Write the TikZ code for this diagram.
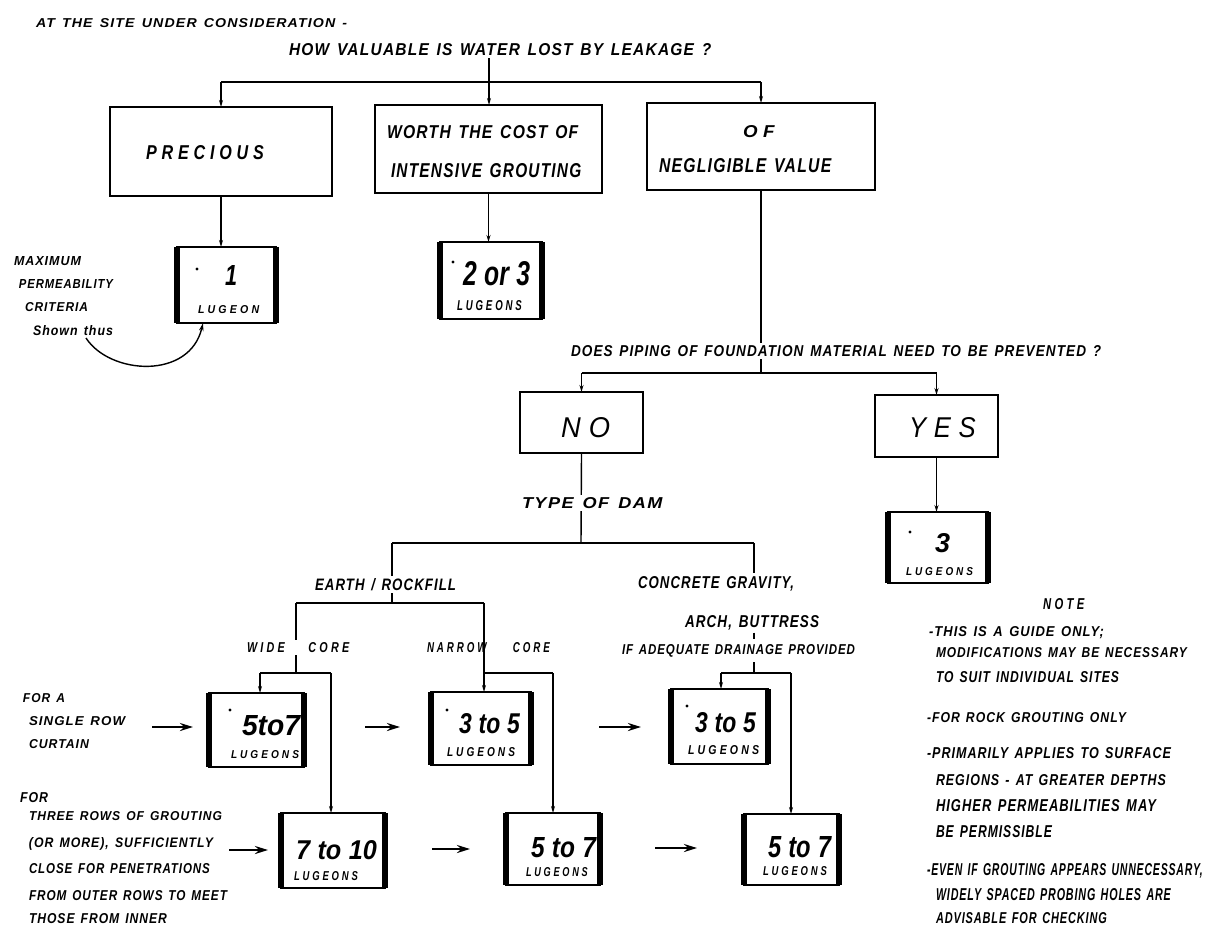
\documentclass[tikz,border=0pt]{standalone}
\usepackage{fontspec}
\usepackage{graphicx}
\setmainfont{Liberation Sans}
\newfontfamily\labA{Liberation Sans}[LetterSpace=8]
\newfontfamily\labB{Liberation Sans}[LetterSpace=30]
\usetikzlibrary{arrows.meta}
\newcommand\fit[3]{\resizebox{#1pt}{#2pt}{\labA\bfseries\itshape\spaceskip=0.5em\relax #3\kern-0.08em}}
\newcommand\fitw[3]{\resizebox{#1pt}{#2pt}{\labB\bfseries\itshape\spaceskip=0.5em\relax #3\kern-0.3em}}
\newcommand\fitwr[3]{\resizebox{#1pt}{#2pt}{\labB\itshape #3\kern-0.3em}}
\newcommand\fitn[3]{\resizebox{#1pt}{#2pt}{\bfseries\itshape\spaceskip=0.3em\relax #3}}
\begin{document}
\begin{tikzpicture}[x=1pt,y=-1pt,
  txt/.style={inner sep=0pt, outer sep=3pt, anchor=base west},
  wtxt/.style={txt, fill=white, inner ysep=2.5pt, inner xsep=1pt},
  bigbox/.style={draw, line width=2.8pt, inner sep=0pt, outer sep=0pt},
  resbox/.style={draw, line width=2.4pt, inner sep=0pt, outer sep=0pt},
  con/.style={line width=1.4pt},
  arr/.style={con, -{Stealth[length=7pt,width=4pt]}},
  harr/.style={line width=2.8pt, -{Stealth[length=13pt,width=8pt]}},
]
\useasboundingbox (0,0) rectangle (1205,924);
\fill[white] (0,0) rectangle (1205,924);

% ---------- boxes ----------
\node[bigbox, minimum width=222pt, minimum height=89pt] (precious) at (221,151.5) {};
\node[bigbox, minimum width=227pt, minimum height=88pt] (worth) at (488.5,149) {};
\node[bigbox, minimum width=228pt, minimum height=87pt] (negl) at (761,146.5) {};
\node[bigbox, minimum width=123pt, minimum height=61pt] (no) at (581.5,422.5) {};
\node[bigbox, minimum width=123pt, minimum height=62pt] (yes) at (936.5,426) {};

\node[resbox, minimum width=99pt, minimum height=76pt] (b1) at (226.5,285) {};
\node[resbox, minimum width=102pt, minimum height=77pt] (b2) at (491,280.5) {};
\node[resbox, minimum width=100pt, minimum height=71pt] (b3) at (938,547.5) {};
\node[resbox, minimum width=95pt, minimum height=74pt] (r1a) at (256.5,730) {};
\node[resbox, minimum width=100pt, minimum height=73pt] (r1b) at (481,728.5) {};
\node[resbox, minimum width=97pt, minimum height=75pt] (r1c) at (719.5,726.5) {};
\node[resbox, minimum width=104pt, minimum height=75pt] (r2a) at (333,850.5) {};
\node[resbox, minimum width=94pt, minimum height=72pt] (r2b) at (553,849) {};
\node[resbox, minimum width=95pt, minimum height=71pt] (r2c) at (791.5,849.5) {};
\foreach \b in {b1,b2,b3,r1a,r1b,r1c,r2a,r2b,r2c}{
  \draw[line width=5.5pt] (\b.north west) -- (\b.south west) (\b.north east) -- (\b.south east);
}

% ---------- junction coordinates ----------
\coordinate (j1) at (489,82);
\coordinate (j2) at (761,373);
\coordinate (j3) at (581,543);
\coordinate (j3L) at (392,543);
\coordinate (j3R) at (754,543);
\coordinate (j4L) at (296,603);
\coordinate (j4R) at (484,603);
\coordinate (j5) at (296,673);
\coordinate (j5L) at (260,673);
\coordinate (j5R) at (331,673);
\coordinate (j6L) at (484,673);
\coordinate (j6R) at (553,673);
\coordinate (j7) at (754,673);
\coordinate (j7L) at (721,673);
\coordinate (j7R) at (791,673);
\coordinate (cs) at (86,338);

% ---------- connectors under filled labels ----------
\draw[con] (negl.south) -- (j2);
\draw[con] (no.south) -- (j3);
\draw[con] (j3L) -- (j4L -| j3L);
\draw[con] (j4L) -- (j5);

% ---------- texts ----------
\node[txt] (q0) at (33,27) {\fit{310}{9}{AT THE SITE UNDER CONSIDERATION -}};
\node[txt] (q1) at (286,55) {\fit{421}{12}{HOW VALUABLE IS WATER LOST BY LEAKAGE ?}};
\node[txt] (tprec) at (143,159) {\fitw{113}{14}{PRECIOUS}};
\node[txt] (tw1) at (384,138) {\fit{190}{13}{WORTH THE COST OF}};
\node[txt] (tw2) at (388,177) {\fit{189}{14}{INTENSIVE GROUTING}};
\node[txt] (tof) at (740,137) {\fitw{26}{12}{OF}};
\node[txt] (tneg) at (656,172) {\fit{171}{14}{NEGLIGIBLE VALUE}};

\node[txt] (m1) at (11,265) {\fit{66}{9}{MAXIMUM}};
\node[txt] (m2) at (16,288) {\fit{93}{9}{PERMEABILITY}};
\node[txt] (m3) at (22,311) {\fit{62}{9}{CRITERIA}};
\node[txt] (shown) at (30,335) {\fit{79}{10}{Shown thus}};

\node[txt] (n1) at (222,285) {\fitn{12}{20}{1}};
\node[txt] (l1) at (195,313) {\fitw{58}{8}{LUGEON}};
\node[txt] (n2) at (460,285) {\fitn{67}{24}{2 or 3}};
\node[txt] (l2) at (454,310) {\fitw{62}{10}{LUGEONS}};

\node[wtxt] (q2) at (567,356) {\fit{529}{11}{DOES PIPING OF FOUNDATION MATERIAL NEED TO BE PREVENTED ?}};
\node[txt] (tno) at (558,437) {\fitwr{41}{20}{NO}};
\node[txt] (tyes) at (906,437) {\fitwr{59}{20}{YES}};
\node[txt] (n3) at (932,552) {\fitn{15}{19}{3}};
\node[txt] (l3) at (903,575) {\fitw{64}{8}{LUGEONS}};

\node[wtxt] (tdam) at (518,508) {\fit{139}{11}{TYPE OF DAM}};
\node[wtxt] (earth) at (311,590) {\fit{140}{12}{EARTH / ROCKFILL}};
\node[txt] (conc) at (635,588) {\fit{155}{12}{CONCRETE GRAVITY,}};
\node[txt] (arch) at (682,627) {\fit{133}{12}{ARCH, BUTTRESS}};
\node[wtxt] (ifad) at (618,654) {\fit{232}{10}{IF ADEQUATE DRAINAGE PROVIDED}};
\node[wtxt] (wide) at (243,652) {\fitw{99}{10}{WIDE\hspace{2.2em}CORE}};
\node[txt] (narrow) at (424,652) {\fitw{120}{10}{NARROW\hspace{2.7em}CORE}};

\node[txt] (na) at (239,735) {\fitn{58}{20}{5to7}};
\node[txt] (la) at (228,758) {\fitw{65}{8}{LUGEONS}};
\node[txt] (nb) at (456,733) {\fitn{61}{20}{3 to 5}};
\node[txt] (lb) at (444,756) {\fitw{65}{9}{LUGEONS}};
\node[txt] (nc) at (692,732) {\fitn{61}{20}{3 to 5}};
\node[txt] (lc) at (685,754) {\fitw{68}{9}{LUGEONS}};
\node[txt] (nd) at (293,859) {\fitn{81}{19}{7 to 10}};
\node[txt] (ld) at (291,880) {\fitw{61}{9}{LUGEONS}};
\node[txt] (ne) at (528,857) {\fitn{65}{20}{5 to 7}};
\node[txt] (le) at (523,876) {\fitw{59}{9}{LUGEONS}};
\node[txt] (nf) at (765,857) {\fitn{63}{21}{5 to 7}};
\node[txt] (lf) at (760,875) {\fitw{61}{9}{LUGEONS}};

\node[txt] (s1) at (20,702) {\fit{41}{9}{FOR A}};
\node[txt] (s2) at (26,725) {\fit{95}{9}{SINGLE ROW}};
\node[txt] (s3) at (26,748) {\fit{59}{9}{CURTAIN}};
\node[txt] (t1) at (17,802) {\fit{27}{10}{FOR}};
\node[txt] (t2) at (26,820) {\fit{192}{9}{THREE ROWS OF GROUTING}};
\node[txt] (t3) at (26,847) {\fit{183}{10}{(OR MORE), SUFFICIENTLY}};
\node[txt] (t4) at (26,873) {\fit{180}{10}{CLOSE FOR PENETRATIONS}};
\node[txt] (t5) at (26,900) {\fit{197}{10}{FROM OUTER ROWS TO MEET}};
\node[txt] (t6) at (26,923) {\fit{137}{10}{THOSE FROM INNER}};

\node[txt] (note) at (1040,609) {\fitw{38}{11}{NOTE}};
\node[txt] (o1) at (926,636) {\fit{174}{10}{-THIS IS A GUIDE ONLY;}};
\node[txt] (o2) at (933,657) {\fit{250}{10}{MODIFICATIONS MAY BE NECESSARY}};
\node[txt] (o3) at (933,682) {\fit{182}{11}{TO SUIT INDIVIDUAL SITES}};
\node[txt] (o4) at (924,722) {\fit{198}{10}{-FOR ROCK GROUTING ONLY}};
\node[txt] (o5) at (924,758) {\fit{243}{11}{-PRIMARILY APPLIES TO SURFACE}};
\node[txt] (o6) at (933,785) {\fit{229}{11}{REGIONS - AT GREATER DEPTHS}};
\node[txt] (o7) at (933,811) {\fit{219}{12}{HIGHER PERMEABILITIES MAY}};
\node[txt] (o8) at (933,837) {\fit{115}{12}{BE PERMISSIBLE}};
\node[txt] (o9) at (924,875) {\fit{275}{12}{-EVEN IF GROUTING APPEARS UNNECESSARY,}};
\node[txt] (o10) at (933,900) {\fit{234}{12}{WIDELY SPACED PROBING HOLES ARE}};
\node[txt] (o11) at (933,923) {\fit{170}{11}{ADVISABLE FOR CHECKING}};

% marks in boxes
\foreach \p in {(197,269),(453,262),(910,532),(230,710),(447,710),(687,706)}{
  \fill \p circle (1.6pt);
}

% ---------- connectors ----------
\draw[con] (q1.south -| j1) -- (j1);
\draw[con] (precious.north |- j1) -- (negl.north |- j1);
\draw[arr] (precious.north |- j1) -- (precious.north);
\draw[arr] (j1) -- (j1 |- worth.north);
\draw[arr] (negl.north |- j1) -- (negl.north);
\draw[arr] (precious.south) -- (precious.south |- b1.north);
\draw[arr] (worth.south) -- (worth.south |- b2.north);

\draw[con] (no.north |- j2) -- (yes.north |- j2);
\draw[arr] (no.north |- j2) -- (no.north);
\draw[arr] (yes.north |- j2) -- (yes.north);
\draw[arr] (yes.south) -- (yes.south |- b3.north);

\draw[con] (j3L) -- (j3R);
\draw[con] (j4L) -- (j4R);
\draw[con] (j3R) -- (j3R |- conc.north);
\draw[con] (arch.south -| j3R) -- (ifad.north -| j3R);
\draw[con] (ifad.south -| j3R) -- (j7);

\draw[con] (j5L) -- (j5R);
\draw[arr] (j5L) -- (j5L |- r1a.north);
\draw[arr] (j5R) -- (j5R |- r2a.north);
\draw[con] (j4R) -- (j6L) -- (j6R);
\draw[arr] (j6L) -- (j6L |- r1b.north);
\draw[arr] (j6R) -- (j6R |- r2b.north);
\draw[con] (j7L) -- (j7R);
\draw[arr] (j7L) -- (j7L |- r1c.north);
\draw[arr] (j7R) -- (j7R |- r2c.north);

\draw[con, -{Stealth[length=8pt,width=4.5pt]}] (cs) .. controls (110,375) and (190,380) .. ([xshift=26pt]b1.south west);

% horizontal arrows
\coordinate (h1s) at (152,727); \coordinate (h1e) at (193,727);
\coordinate (h2s) at (365,727); \coordinate (h2e) at (400,727);
\coordinate (h3s) at (599,727); \coordinate (h3e) at (641,727);
\coordinate (h4s) at (229,850); \coordinate (h4e) at (268,850);
\coordinate (h5s) at (432,849); \coordinate (h5e) at (470,849);
\coordinate (h6s) at (655,848); \coordinate (h6e) at (697,848);
\foreach \i in {1,...,6}{ \draw[harr] (h\i s) -- (h\i e); }
\end{tikzpicture}
\end{document}
